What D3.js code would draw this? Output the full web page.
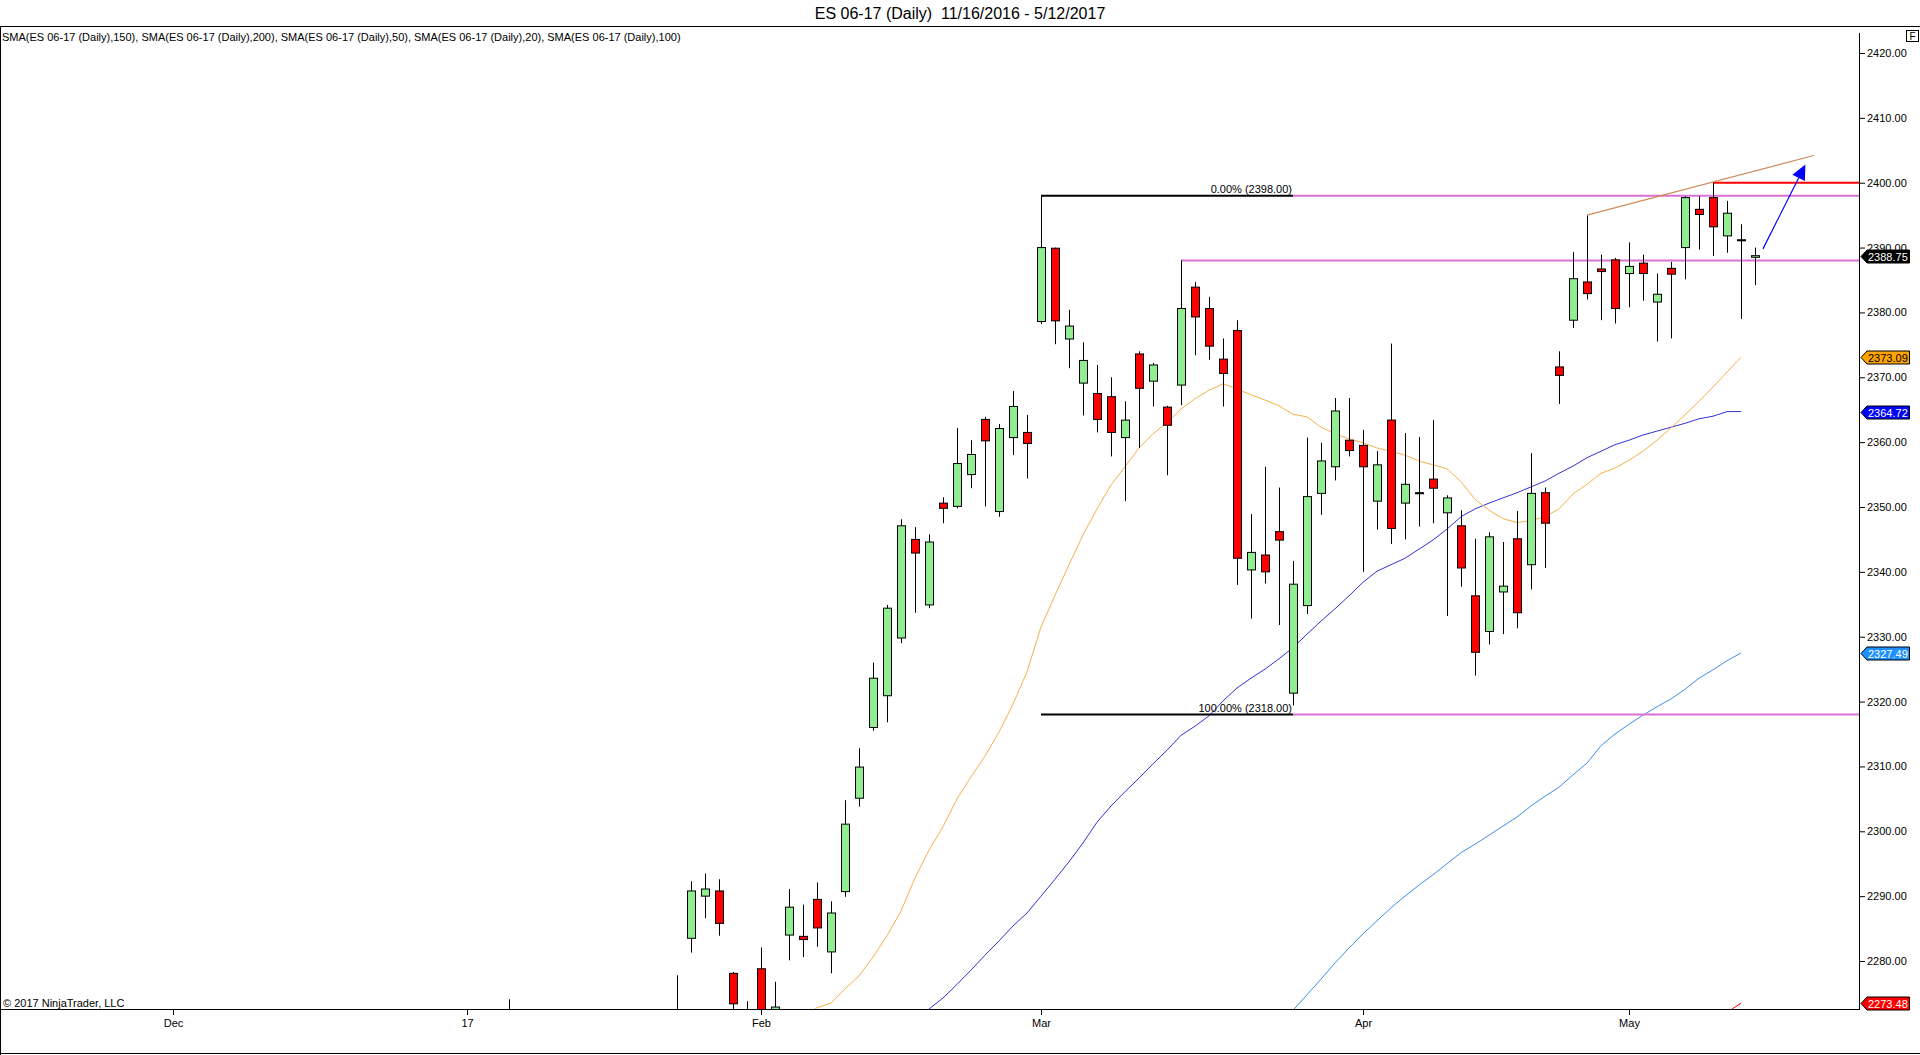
<!DOCTYPE html>
<html>
<head>
    <meta charset="utf-8">
    <title>ES 06-17 (Daily)</title>
    <style>
        body { margin: 0; background: #fff; }
        svg text { font-family: "Liberation Sans", Arial, sans-serif; fill: #000; }
        .axis text { font-size: 11px; }
        .axis line { stroke: #000; }
        .wick { stroke: #000; stroke-width: 1; }
        .body { stroke: #000; stroke-width: 1; }
        .sma { fill: none; stroke-width: 1; }
    </style>
</head>
<body>
<svg id="chart" width="1920" height="1055"></svg>
<script src="https://d3js.org/d3.v7.min.js"></script>
<script>
// trading calendar of the chart (weekdays without the closed sessions)
const firstSession = "2016-11-16";
const lastSession = "2017-05-12";
const closedDays = ["2016-11-24", "2016-12-26", "2017-01-02", "2017-04-14"];

// x axis labels
const xTickDates = ["2016-12-01", "2017-01-03", "2017-02-01", "2017-03-01", "2017-04-03", "2017-05-01"];
const xTickLabels = ["Dec", "17", "Feb", "Mar", "Apr", "May"];

// y axis labels
const yTicks = [2280, 2290, 2300, 2310, 2320, 2330, 2340, 2350, 2360, 2370, 2380, 2390, 2400, 2410, 2420];

// daily bars (only the ones that reach into the visible price range)
const barDates = ["2017-01-06", "2017-01-24", "2017-01-25", "2017-01-26", "2017-01-27", "2017-01-30", "2017-01-31",
    "2017-02-01", "2017-02-02", "2017-02-03", "2017-02-06", "2017-02-07", "2017-02-08", "2017-02-09", "2017-02-10",
    "2017-02-13", "2017-02-14", "2017-02-15", "2017-02-16", "2017-02-17", "2017-02-20", "2017-02-21", "2017-02-22",
    "2017-02-23", "2017-02-24", "2017-02-27", "2017-02-28", "2017-03-01", "2017-03-02", "2017-03-03", "2017-03-06",
    "2017-03-07", "2017-03-08", "2017-03-09", "2017-03-10", "2017-03-13", "2017-03-14", "2017-03-15", "2017-03-16",
    "2017-03-17", "2017-03-20", "2017-03-21", "2017-03-22", "2017-03-23", "2017-03-24", "2017-03-27", "2017-03-28",
    "2017-03-29", "2017-03-30", "2017-03-31", "2017-04-03", "2017-04-04", "2017-04-05", "2017-04-06", "2017-04-07",
    "2017-04-10", "2017-04-11", "2017-04-12", "2017-04-13", "2017-04-17", "2017-04-18", "2017-04-19", "2017-04-20",
    "2017-04-21", "2017-04-24", "2017-04-25", "2017-04-26", "2017-04-27", "2017-04-28", "2017-05-01", "2017-05-02",
    "2017-05-03", "2017-05-04", "2017-05-05", "2017-05-08", "2017-05-09", "2017-05-10", "2017-05-11", "2017-05-12"];
const opens = [2260.5, 2260.0, 2283.5, 2290.0, 2290.8, 2278.1, 2268.0,
    2278.8, 2266.5, 2284.0, 2283.8, 2289.5, 2281.4, 2290.7, 2305.1,
    2316.0, 2320.9, 2329.8, 2345.0, 2334.9, 2350.6, 2350.1, 2355.0,
    2363.5, 2349.3, 2360.7, 2361.5, 2378.6, 2389.9, 2375.9, 2369.1,
    2367.5, 2367.0, 2360.7, 2373.6, 2369.4, 2365.4, 2368.8, 2383.9,
    2380.6, 2372.8, 2377.2, 2340.3, 2342.6, 2346.2, 2321.3, 2334.8,
    2352.1, 2356.2, 2360.3, 2359.5, 2350.9, 2363.4, 2350.6, 2352.2,
    2354.3, 2349.1, 2347.1, 2336.3, 2330.8, 2336.9, 2345.1, 2341.1,
    2352.2, 2371.6, 2378.8, 2384.7, 2386.7, 2388.1, 2386.0, 2387.6,
    2381.6, 2386.8, 2390.0, 2395.9, 2397.7, 2391.8, 2391.2, 2388.5];
const highs = [2274.1, 2277.8, 2292.3, 2293.5, 2292.6, 2278.3, 2273.8,
    2282.1, 2276.8, 2291.1, 2288.7, 2292.1, 2289.2, 2304.8, 2312.8,
    2326.0, 2334.9, 2348.1, 2346.9, 2345.8, 2351.5, 2362.2, 2360.3,
    2363.9, 2362.8, 2367.9, 2364.2, 2398.0, 2390.0, 2380.4, 2375.4,
    2371.9, 2370.0, 2366.3, 2374.0, 2372.2, 2365.6, 2388.0, 2384.7,
    2382.4, 2376.0, 2378.8, 2348.9, 2356.2, 2353.0, 2341.7, 2360.7,
    2359.9, 2366.8, 2366.8, 2361.9, 2358.6, 2375.2, 2361.4, 2360.8,
    2363.4, 2351.8, 2349.5, 2345.1, 2346.1, 2344.6, 2349.4, 2358.3,
    2353.0, 2374.0, 2389.3, 2395.0, 2388.9, 2388.4, 2390.8, 2388.9,
    2386.0, 2387.8, 2397.9, 2397.9, 2400.0, 2397.2, 2393.6, 2390.0];
const lows = [2257.0, 2257.0, 2281.3, 2286.6, 2283.9, 2265.5, 2260.0,
    2266.0, 2262.0, 2280.1, 2280.6, 2282.2, 2278.1, 2289.9, 2303.8,
    2315.5, 2316.8, 2329.0, 2333.7, 2334.4, 2347.5, 2349.8, 2352.9,
    2350.1, 2348.5, 2358.0, 2354.4, 2378.2, 2375.1, 2371.4, 2364.1,
    2361.5, 2357.8, 2350.9, 2359.1, 2365.5, 2354.9, 2365.7, 2373.4,
    2372.7, 2365.5, 2338.0, 2332.8, 2338.2, 2331.8, 2319.4, 2333.5,
    2348.8, 2354.1, 2357.8, 2340.0, 2346.5, 2344.3, 2345.0, 2347.0,
    2347.5, 2333.2, 2337.7, 2324.0, 2328.8, 2330.4, 2331.3, 2337.3,
    2340.6, 2365.9, 2377.6, 2382.0, 2378.8, 2378.3, 2380.8, 2381.8,
    2375.5, 2376.0, 2385.1, 2389.7, 2388.7, 2389.2, 2379.0, 2384.2];
const closes = [2268.0, 2271.5, 2290.8, 2291.1, 2285.8, 2273.4, 2270.5,
    2270.5, 2272.9, 2288.3, 2283.3, 2285.1, 2287.4, 2301.1, 2309.9,
    2323.6, 2334.4, 2347.1, 2342.9, 2344.6, 2349.8, 2356.7, 2358.1,
    2360.2, 2362.1, 2365.5, 2359.8, 2390.0, 2378.7, 2377.9, 2372.6,
    2363.5, 2361.5, 2363.4, 2368.3, 2371.9, 2362.6, 2380.6, 2379.3,
    2374.8, 2370.6, 2342.1, 2343.0, 2340.0, 2344.9, 2338.1, 2351.6,
    2357.1, 2364.8, 2358.7, 2356.2, 2356.5, 2346.7, 2353.5, 2352.2,
    2352.9, 2351.4, 2340.6, 2327.6, 2345.4, 2337.8, 2333.7, 2352.1,
    2347.5, 2370.3, 2385.2, 2382.9, 2386.3, 2380.6, 2387.1, 2386.0,
    2382.8, 2385.9, 2397.7, 2395.1, 2393.2, 2395.3, 2391.2, 2388.75];

// moving averages, one value per session from the start date on
const sma20Start = "2017-02-06";
const sma20 = [2271.5, 2272.8, 2273.5, 2275.7, 2277.7, 2280.6, 2283.9, 2287.7, 2292.8, 2297.1, 2300.7, 2305.0,
    2308.4, 2311.6, 2315.3, 2319.6, 2324.6, 2331.5, 2336.4, 2341.1, 2345.7, 2349.7, 2353.4, 2356.2, 2359.1,
    2361.3, 2363.0, 2365.1, 2366.7, 2368.0, 2369.0, 2368.2, 2367.3, 2366.5, 2365.6, 2364.3, 2363.9, 2362.3,
    2361.3, 2360.5, 2359.9, 2359.1, 2358.6, 2358.0, 2357.1, 2356.5, 2355.9, 2353.9, 2351.2, 2349.5, 2348.2,
    2347.6, 2347.9, 2348.5, 2349.7, 2352.0, 2353.5, 2355.2, 2356.0, 2357.2, 2358.6, 2360.3, 2362.2, 2364.2,
    2366.3, 2368.5, 2370.8, 2373.09];
const sma50Start = "2017-02-16";
const sma50 = [2270.5, 2272.6, 2274.3, 2276.4, 2278.6, 2280.9, 2283.1, 2285.4, 2287.4, 2290.0, 2292.6, 2295.3,
    2298.2, 2301.4, 2303.9, 2306.1, 2308.2, 2310.4, 2312.5, 2314.8, 2316.2, 2317.8, 2320.1, 2322.1, 2323.6,
    2325.0, 2326.6, 2328.3, 2330.4, 2332.4, 2334.3, 2336.3, 2338.4, 2340.1, 2341.1, 2342.1, 2343.5, 2344.9,
    2346.6, 2348.5, 2349.7, 2350.6, 2351.4, 2352.2, 2353.1, 2354.0, 2355.2, 2356.3, 2357.6, 2358.6, 2359.6,
    2360.3, 2361.1, 2361.7, 2362.3, 2362.9, 2363.6, 2364.0, 2364.7, 2364.72];
const sma100Start = "2017-03-24";
const sma100 = [2270.0, 2272.4, 2274.8, 2277.2, 2279.7, 2282.0, 2284.2, 2286.2, 2288.2, 2290.0, 2291.7, 2293.3,
    2295.0, 2296.7, 2298.0, 2299.4, 2300.8, 2302.2, 2303.9, 2305.4, 2306.8, 2308.7, 2310.5, 2313.2, 2315.0,
    2316.5, 2317.9, 2319.2, 2320.4, 2321.9, 2323.6, 2324.9, 2326.3, 2327.49];
const sma150Start = "2017-05-08";
const sma150 = [2269.4, 2270.8, 2272.1, 2273.48];

// drawings on the chart
const fibHigh = 2398, fibLow = 2318;
const fibFrom = "2017-03-01", fibTo = "2017-03-27";
const levelLine = { date: "2017-03-15", price: 2388 };
const highLine = { date: "2017-05-09", price: 2400 };
const trendFrom = { pos: 111, price: 2395.0 }, trendTo = { pos: 127.2, price: 2404.2 };
const arrowFrom = { pos: 123.57, price: 2389.8 }, arrowTo = { pos: 126.6, price: 2402.8 };

// ---------------------------------------------------------------------------

const parseDay = d3.utcParse("%Y-%m-%d"), formatDay = d3.utcFormat("%Y-%m-%d");
const sessions = d3.utcDay.range(parseDay(firstSession), d3.utcDay.offset(parseDay(lastSession), 1))
    .filter(d => d.getUTCDay() !== 0 && d.getUTCDay() !== 6)
    .map(formatDay)
    .filter(d => !closedDays.includes(d));
const pos = new Map(sessions.map((d, i) => [d, i]));

const svg = d3.select('#chart');
const W = 1920, H = 1055;
const plot = { left: 1, right: 1859, top: 27, bottom: 1009 };
const barSpacing = 14, lastBarX = 1755;

const x = d3.scaleLinear()
    .domain([0, sessions.length - 1])
    .range([lastBarX - (sessions.length - 1) * barSpacing, lastBarX]);
const y = d3.scaleLinear().domain([2280, 2420]).range([961, 53]);

// frame and title
svg.append('rect').attr('width', W).attr('height', H).attr('fill', '#fff');
svg.append('text')
    .attr('x', W / 2).attr('y', 19)
    .attr('text-anchor', 'middle')
    .style('font-size', '16px')
    .style('white-space', 'pre')
    .text('ES 06-17 (Daily)  11/16/2016 - 5/12/2017');
svg.append('line').attr('x1', 0).attr('x2', W).attr('y1', 26.5).attr('y2', 26.5).attr('stroke', '#000');
svg.append('line').attr('x1', 0.5).attr('x2', 0.5).attr('y1', 26).attr('y2', H).attr('stroke', '#000');
svg.append('line').attr('x1', 0).attr('x2', W).attr('y1', 1053.5).attr('y2', 1053.5).attr('stroke', '#000');

svg.append('rect').attr('x', 1906.5).attr('y', 30.5).attr('width', 12).attr('height', 11)
    .attr('fill', '#fff').attr('stroke', '#000');
svg.append('text').attr('x', 1912.5).attr('y', 40).attr('text-anchor', 'middle')
    .style('font-size', '10px').text('F');

svg.append('text')
    .attr('x', 2).attr('y', 41)
    .style('font-size', '11px')
    .text('SMA(ES 06-17 (Daily),150), SMA(ES 06-17 (Daily),200), SMA(ES 06-17 (Daily),50), SMA(ES 06-17 (Daily),20), SMA(ES 06-17 (Daily),100)');

svg.append('text')
    .attr('x', 3).attr('y', 1007)
    .style('font-size', '11px')
    .text('\u00a9 2017 NinjaTrader, LLC');

// axes
svg.append('g')
    .attr('class', 'axis')
    .attr('transform', `translate(${plot.right},0)`)
    .call(d3.axisRight(y).tickValues(yTicks).tickFormat(d3.format('.2f')).tickSize(6).tickSizeOuter(0).tickPadding(2))
    .call(g => g.select('.domain').remove())
    .call(g => g.selectAll('text').attr('fill', '#000'));

svg.append('g')
    .attr('class', 'axis')
    .attr('transform', `translate(0,${plot.bottom})`)
    .call(d3.axisBottom(x).tickValues(xTickDates.map(d => pos.get(d)))
        .tickFormat((d, i) => xTickLabels[i]).tickSize(6).tickSizeOuter(0).tickPadding(4))
    .call(g => g.select('.domain').remove())
    .call(g => g.selectAll('text').attr('fill', '#000'));

svg.append('line').attr('x1', plot.right + 0.5).attr('x2', plot.right + 0.5)
    .attr('y1', 33).attr('y2', plot.bottom + 1).attr('stroke', '#000');
svg.append('line').attr('x1', 0).attr('x2', plot.right + 1)
    .attr('y1', plot.bottom + 0.5).attr('y2', plot.bottom + 0.5).attr('stroke', '#000');

// plot area
svg.append('clipPath').attr('id', 'plot-clip')
    .append('rect')
    .attr('x', plot.left).attr('y', plot.top)
    .attr('width', plot.right - plot.left).attr('height', plot.bottom - plot.top);
const g = svg.append('g').attr('clip-path', 'url(#plot-clip)');

// moving averages
const smaSeries = [
    { start: sma150Start, values: sma150, color: '#ff0000', label: '#ff0000', text: '#fff' },
    { start: sma100Start, values: sma100, color: '#3d8fe8', label: '#1e90ff', text: '#fff' },
    { start: sma50Start, values: sma50, color: '#3232d8', label: '#0000ff', text: '#fff' },
    { start: sma20Start, values: sma20, color: '#f7b04a', label: '#ffa500', text: '#000' }
];
const line = d3.line().x(d => x(d.i)).y(d => y(d.v));
smaSeries.forEach(s => {
    const p0 = pos.get(s.start);
    g.append('path')
        .attr('class', 'sma')
        .attr('stroke', s.color)
        .attr('d', line(s.values.map((v, k) => ({ i: p0 + k, v }))));
});

// fibonacci retracement
const fibX0 = x(pos.get(fibFrom)), fibX1 = x(pos.get(fibTo));
[{ p: fibHigh, t: '0.00%' }, { p: fibLow, t: '100.00%' }].forEach(f => {
    g.append('line').attr('x1', fibX1).attr('x2', plot.right)
        .attr('y1', y(f.p)).attr('y2', y(f.p))
        .attr('stroke', '#da70d6').attr('stroke-width', 2);
    g.append('line').attr('x1', fibX0).attr('x2', fibX1)
        .attr('y1', y(f.p)).attr('y2', y(f.p))
        .attr('stroke', '#000').attr('stroke-width', 2);
    g.append('text').attr('x', fibX1 - 1).attr('y', y(f.p) - 3)
        .attr('text-anchor', 'end').style('font-size', '11px')
        .text(`${f.t} (${f.p.toFixed(2)})`);
});

g.append('line').attr('x1', x(pos.get(levelLine.date))).attr('x2', plot.right)
    .attr('y1', y(levelLine.price)).attr('y2', y(levelLine.price))
    .attr('stroke', '#da70d6').attr('stroke-width', 2);
g.append('line').attr('x1', x(pos.get(highLine.date))).attr('x2', plot.right)
    .attr('y1', y(highLine.price)).attr('y2', y(highLine.price))
    .attr('stroke', '#ff0000').attr('stroke-width', 2);

// candles
const bars = barDates.map((d, k) => ({ i: pos.get(d), o: opens[k], h: highs[k], l: lows[k], c: closes[k] }));
g.selectAll('.wick')
    .data(bars)
    .join('line')
    .attr('class', 'wick')
    .attr('x1', d => x(d.i) + 0.5).attr('x2', d => x(d.i) + 0.5)
    .attr('y1', d => y(d.h)).attr('y2', d => y(d.l));
g.selectAll('.body')
    .data(bars)
    .join('rect')
    .attr('class', 'body')
    .attr('x', d => x(d.i) - 3.5)
    .attr('width', 8)
    .attr('y', d => y(Math.max(d.o, d.c)))
    .attr('height', d => Math.max(1, y(Math.min(d.o, d.c)) - y(Math.max(d.o, d.c))))
    .attr('fill', d => d.c > d.o ? '#90ee90' : d.c < d.o ? '#ff0000' : '#000');

// trend line and arrow
g.append('line')
    .attr('x1', x(trendFrom.pos)).attr('y1', y(trendFrom.price))
    .attr('x2', x(trendTo.pos)).attr('y2', y(trendTo.price))
    .attr('stroke', '#d08b5b').attr('stroke-width', 1.2);

const ax0 = x(arrowFrom.pos), ay0 = y(arrowFrom.price), ax1 = x(arrowTo.pos), ay1 = y(arrowTo.price);
const len = Math.hypot(ax1 - ax0, ay1 - ay0), ux = (ax1 - ax0) / len, uy = (ay1 - ay0) / len;
const bx = ax1 - ux * 15, by = ay1 - uy * 15;
g.append('line').attr('x1', ax0).attr('y1', ay0).attr('x2', bx).attr('y2', by)
    .attr('stroke', '#0000ff').attr('stroke-width', 1.2);
g.append('path')
    .attr('d', `M${ax1},${ay1}L${bx - uy * 7},${by + ux * 7}L${bx + uy * 7},${by - ux * 7}Z`)
    .attr('fill', '#0000ff');

// value markers on the price axis
const markers = smaSeries.map(s => ({ v: s.values[s.values.length - 1], fill: s.label, text: s.text }))
    .concat([{ v: closes[closes.length - 1], fill: '#000', text: '#fff' }]);
markers.forEach(m => {
    const my = Math.round(y(m.v)) + 0.5;
    svg.append('path')
        .attr('d', `M${plot.right + 2},${my}L${plot.right + 8},${my - 6.5}L1909.5,${my - 6.5}L1909.5,${my + 6.5}L${plot.right + 8},${my + 6.5}Z`)
        .attr('fill', m.fill).attr('stroke', '#000');
    svg.append('text')
        .attr('x', plot.right + 9).attr('y', my + 4)
        .style('font-size', '11px')
        .style('fill', m.text)
        .text(m.v.toFixed(2));
});
</script>
</body>
</html>
